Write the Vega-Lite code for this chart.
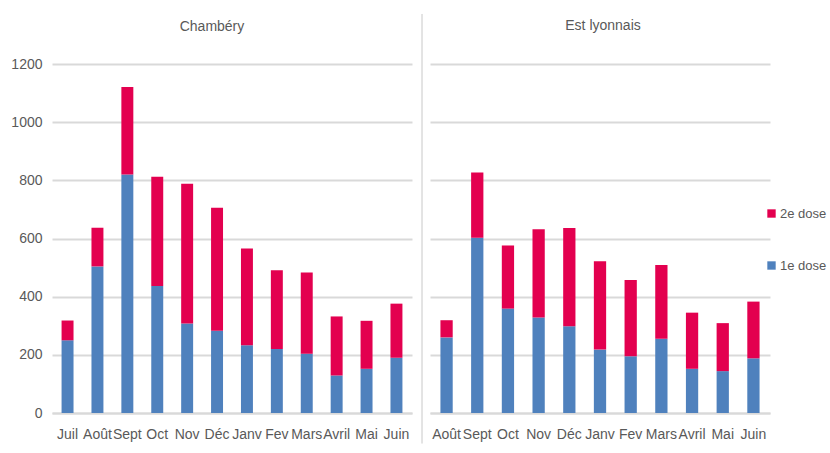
{
  "$schema": "https://vega.github.io/schema/vega-lite/v6.json",
  "padding": {"left": 10, "top": 13, "right": 0, "bottom": 0},
  "background": "white",
  "data": {
    "values": [
      {"site": "Chambéry", "mois": "Juil", "dose": "1e dose", "n": 250},
      {"site": "Chambéry", "mois": "Juil", "dose": "2e dose", "n": 68},
      {"site": "Chambéry", "mois": "Août", "dose": "1e dose", "n": 504},
      {"site": "Chambéry", "mois": "Août", "dose": "2e dose", "n": 133},
      {"site": "Chambéry", "mois": "Sept", "dose": "1e dose", "n": 820},
      {"site": "Chambéry", "mois": "Sept", "dose": "2e dose", "n": 301},
      {"site": "Chambéry", "mois": "Oct", "dose": "1e dose", "n": 437},
      {"site": "Chambéry", "mois": "Oct", "dose": "2e dose", "n": 375},
      {"site": "Chambéry", "mois": "Nov", "dose": "1e dose", "n": 308},
      {"site": "Chambéry", "mois": "Nov", "dose": "2e dose", "n": 480},
      {"site": "Chambéry", "mois": "Déc", "dose": "1e dose", "n": 283},
      {"site": "Chambéry", "mois": "Déc", "dose": "2e dose", "n": 423},
      {"site": "Chambéry", "mois": "Janv", "dose": "1e dose", "n": 233},
      {"site": "Chambéry", "mois": "Janv", "dose": "2e dose", "n": 333},
      {"site": "Chambéry", "mois": "Fev", "dose": "1e dose", "n": 220},
      {"site": "Chambéry", "mois": "Fev", "dose": "2e dose", "n": 271},
      {"site": "Chambéry", "mois": "Mars", "dose": "1e dose", "n": 204},
      {"site": "Chambéry", "mois": "Mars", "dose": "2e dose", "n": 279},
      {"site": "Chambéry", "mois": "Avril", "dose": "1e dose", "n": 129},
      {"site": "Chambéry", "mois": "Avril", "dose": "2e dose", "n": 203},
      {"site": "Chambéry", "mois": "Mai", "dose": "1e dose", "n": 152},
      {"site": "Chambéry", "mois": "Mai", "dose": "2e dose", "n": 165},
      {"site": "Chambéry", "mois": "Juin", "dose": "1e dose", "n": 190},
      {"site": "Chambéry", "mois": "Juin", "dose": "2e dose", "n": 186},
      {"site": "Est lyonnais", "mois": "Août", "dose": "1e dose", "n": 260},
      {"site": "Est lyonnais", "mois": "Août", "dose": "2e dose", "n": 59},
      {"site": "Est lyonnais", "mois": "Sept", "dose": "1e dose", "n": 603},
      {"site": "Est lyonnais", "mois": "Sept", "dose": "2e dose", "n": 224},
      {"site": "Est lyonnais", "mois": "Oct", "dose": "1e dose", "n": 359},
      {"site": "Est lyonnais", "mois": "Oct", "dose": "2e dose", "n": 217},
      {"site": "Est lyonnais", "mois": "Nov", "dose": "1e dose", "n": 328},
      {"site": "Est lyonnais", "mois": "Nov", "dose": "2e dose", "n": 304},
      {"site": "Est lyonnais", "mois": "Déc", "dose": "1e dose", "n": 298},
      {"site": "Est lyonnais", "mois": "Déc", "dose": "2e dose", "n": 338},
      {"site": "Est lyonnais", "mois": "Janv", "dose": "1e dose", "n": 218},
      {"site": "Est lyonnais", "mois": "Janv", "dose": "2e dose", "n": 304},
      {"site": "Est lyonnais", "mois": "Fev", "dose": "1e dose", "n": 195},
      {"site": "Est lyonnais", "mois": "Fev", "dose": "2e dose", "n": 262},
      {"site": "Est lyonnais", "mois": "Mars", "dose": "1e dose", "n": 255},
      {"site": "Est lyonnais", "mois": "Mars", "dose": "2e dose", "n": 254},
      {"site": "Est lyonnais", "mois": "Avril", "dose": "1e dose", "n": 152},
      {"site": "Est lyonnais", "mois": "Avril", "dose": "2e dose", "n": 193},
      {"site": "Est lyonnais", "mois": "Mai", "dose": "1e dose", "n": 144},
      {"site": "Est lyonnais", "mois": "Mai", "dose": "2e dose", "n": 165},
      {"site": "Est lyonnais", "mois": "Juin", "dose": "1e dose", "n": 188},
      {"site": "Est lyonnais", "mois": "Juin", "dose": "2e dose", "n": 195}
    ]
  },
  "config": {
    "font": "Liberation Sans, Arial, sans-serif",
    "view": {"stroke": null},
    "axis": {
      "labelFont": "Liberation Sans, Arial, sans-serif",
      "labelFontSize": 14,
      "labelColor": "#595959",
      "labelOverlap": false,
      "gridColor": "#d9d9d9",
      "gridWidth": 2,
      "domainColor": "#d9d9d9",
      "domainWidth": 2,
      "ticks": false,
      "title": null
    },
    "title": {"font": "Liberation Sans, Arial, sans-serif", "fontSize": 14, "color": "#595959", "fontWeight": "normal", "offset": 23},
    "legend": {
      "labelFont": "Liberation Sans, Arial, sans-serif",
      "labelFontSize": 13,
      "labelColor": "#595959",
      "symbolType": "square",
      "symbolSize": 70,
      "symbolStrokeWidth": 0,
      "rowPadding": 38,
      "labelOffset": 2
    }
  },
  "spacing": 9,
  "resolve": {"scale": {"x": "independent", "y": "independent", "color": "shared"}, "legend": {"color": "shared"}},
  "hconcat": [
    {
      "title": {"text": "Chambéry", "dx": -20},
      "width": 360,
      "height": 349,
      "transform": [{"filter": "datum.site === 'Chambéry'"}],
      "mark": {"type": "bar"},
      "encoding": {
        "x": {
          "field": "mois", "type": "nominal",
          "sort": ["Juil", "Août", "Sept", "Oct", "Nov", "Déc", "Janv", "Fev", "Mars", "Avril", "Mai", "Juin"],
          "scale": {"paddingInner": 0.6, "paddingOuter": 0.32},
          "axis": {"labelAngle": 0, "labelPadding": 14, "grid": false}
        },
        "y": {
          "field": "n", "type": "quantitative", "stack": "zero",
          "scale": {"domain": [0, 1200], "nice": false},
          "axis": {"values": [0, 200, 400, 600, 800, 1000, 1200], "format": "d", "domain": false, "labelPadding": 10}
        },
        "color": {
          "field": "dose", "type": "nominal",
          "scale": {"domain": ["2e dose", "1e dose"], "range": ["#e3004f", "#4f81bd"]},
          "legend": {"title": null, "orient": "none", "legendX": 713, "legendY": 143}
        },
        "order": {"field": "dose", "sort": "ascending"}
      }
    },
    {
      "title": {"text": "Est lyonnais", "dx": 3, "offset": -20},
      "width": 340,
      "height": 349,
      "layer": [
        {
          "transform": [{"filter": "datum.site === 'Est lyonnais'"}],
          "mark": {"type": "bar"},
          "encoding": {
            "x": {
              "field": "mois", "type": "nominal",
              "sort": ["Août", "Sept", "Oct", "Nov", "Déc", "Janv", "Fev", "Mars", "Avril", "Mai", "Juin"],
              "scale": {"paddingInner": 0.6, "paddingOuter": 0.34},
              "axis": {"labelAngle": 0, "labelPadding": 14, "grid": false}
            },
            "y": {
              "field": "n", "type": "quantitative", "stack": "zero",
              "scale": {"domain": [0, 1200], "nice": false},
              "axis": {"values": [0, 200, 400, 600, 800, 1000, 1200], "domain": false, "labels": false}
            },
            "color": {"field": "dose", "type": "nominal"},
            "order": {"field": "dose", "sort": "ascending"}
          }
        },
        {
          "data": {"values": [{"sep": 1}]},
          "mark": {"type": "rule", "color": "#c8c8c8", "strokeWidth": 1, "clip": false},
          "encoding": {
            "x": {"value": -8},
            "y": {"datum": -105},
            "y2": {"datum": 1372}
          }
        }
      ]
    }
  ]
}
